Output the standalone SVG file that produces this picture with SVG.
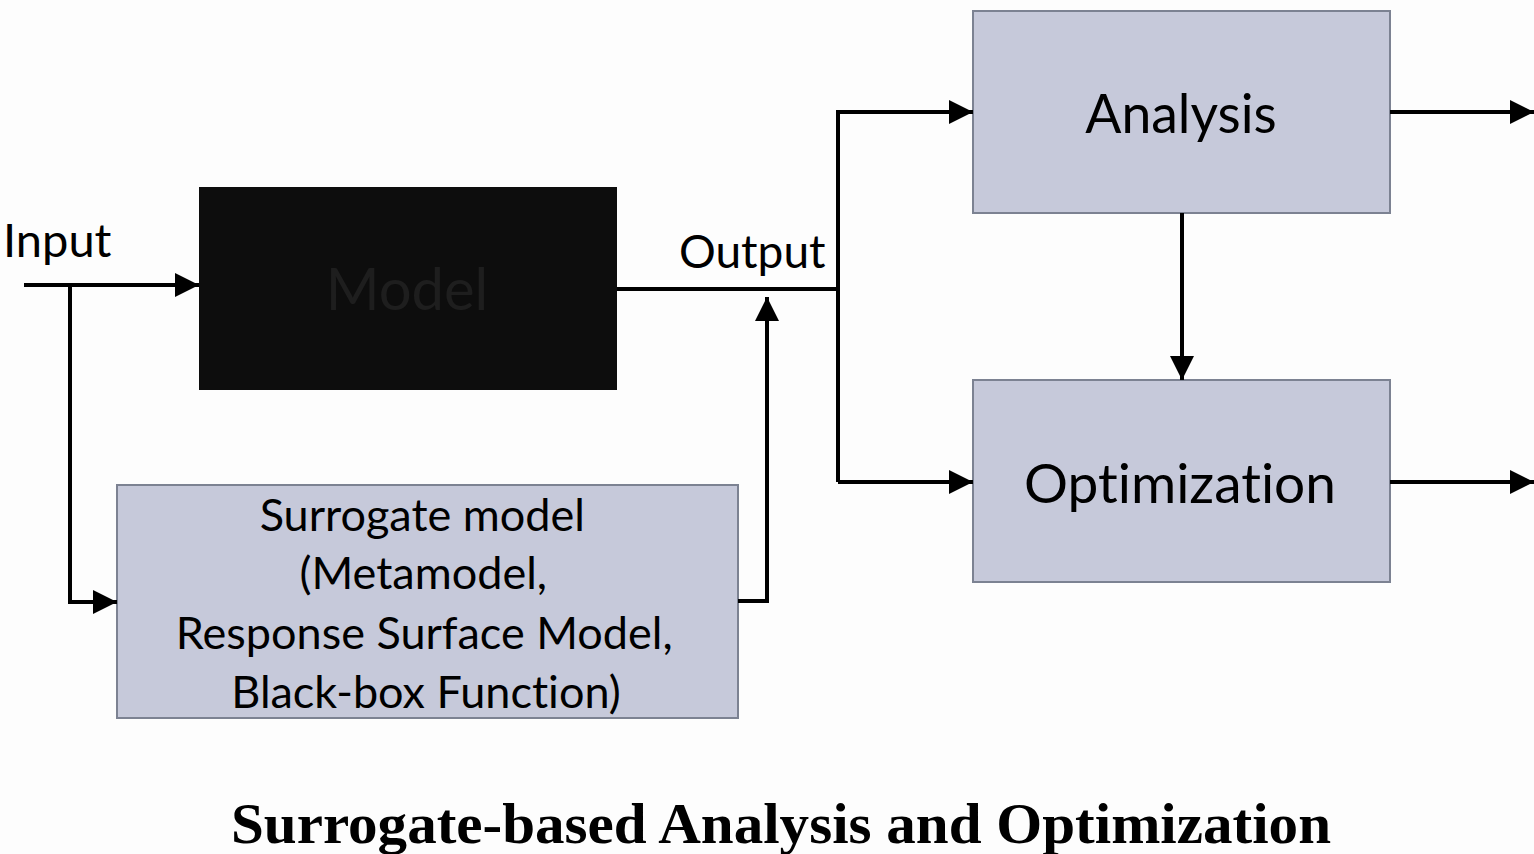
<svg xmlns="http://www.w3.org/2000/svg" width="1534" height="854" viewBox="0 0 1534 854">
<style>
.box{fill:#c6c9da;stroke:#7c8292;stroke-width:2}
.lbl{font-family:Lato,"Open Sans",sans-serif;fill:#000;font-variant-ligatures:none}
.ln{fill:none;stroke:#000;stroke-width:4}
</style>
<defs>
<marker id="a" viewBox="0 0 24 24" refX="24" refY="12" markerWidth="24" markerHeight="24" markerUnits="userSpaceOnUse" orient="auto">
<path d="M0,0 L24,12 L0,24 z" fill="#000"/>
</marker>
</defs>
<rect width="1534" height="854" fill="#fdfdfd"/>
<g id="input-label"><text class="lbl" x="3" y="257" font-size="47">Input</text></g>
<g id="model">
<rect x="199" y="187" width="418" height="203" fill="#0d0d0d"/>
<text x="407" y="310" font-size="58" text-anchor="middle" font-family="Lato,'Open Sans',sans-serif" fill="#1e1e1e">Model</text>
</g>
<g id="output-label"><text class="lbl" x="679" y="268" font-size="46">Output</text></g>
<g id="surrogate">
<rect class="box" x="117" y="485" width="621" height="233"/>
<text class="lbl" font-size="45" text-anchor="middle">
<tspan x="428" y="531">Surrogate model</tspan>
<tspan x="429" y="589">(Metamodel,</tspan>
<tspan x="430" y="649">Response Surface Model,</tspan>
<tspan x="426" y="708">Black-box Function)</tspan>
</text>
</g>
<g id="analysis">
<rect class="box" x="973" y="11" width="417" height="202"/>
<text class="lbl" x="1181" y="133" font-size="53.5" text-anchor="middle">Analysis</text>
</g>
<g id="optimization">
<rect class="box" x="973" y="380" width="417" height="202"/>
<text class="lbl" x="1180" y="503" font-size="55" text-anchor="middle">Optimization</text>
</g>
<g id="connectors">
<path class="ln" d="M24,285 H199" marker-end="url(#a)"/>
<path class="ln" d="M70,285 V602 H117" marker-end="url(#a)"/>
<path class="ln" d="M617,289 H838"/>
<path class="ln" d="M738,601 H767 V297" marker-end="url(#a)"/>
<path class="ln" d="M838,482 V112 H973" marker-end="url(#a)"/>
<path class="ln" d="M838,482 H973" marker-end="url(#a)"/>
<path class="ln" d="M1182,213 V380" marker-end="url(#a)"/>
<path class="ln" d="M1390,112 H1534" marker-end="url(#a)"/>
<path class="ln" d="M1390,482 H1534" marker-end="url(#a)"/>
</g>
<g id="title"><text x="781" y="843" font-size="58" font-weight="bold" text-anchor="middle" textLength="1100" lengthAdjust="spacingAndGlyphs" font-family="'Liberation Serif',serif" fill="#000">Surrogate-based Analysis and Optimization</text></g>
</svg>
